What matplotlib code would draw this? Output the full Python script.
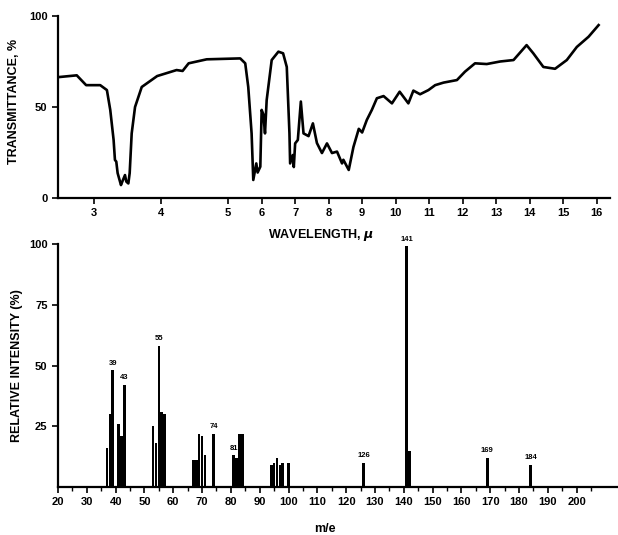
import numpy as np
import matplotlib
matplotlib.use("Agg")
import matplotlib.pyplot as plt

plt.rcParams['font.family'] = ['Liberation Sans', 'DejaVu Sans']
plt.rcParams['font.weight'] = 'bold'
plt.rcParams['axes.labelweight'] = 'bold'

# IR spectrum (wavelength in microns, % transmittance)
wl = [2.49, 2.74, 2.88, 3.09, 3.19, 3.24, 3.29, 3.31, 3.33, 3.35, 3.40, 3.42, 3.46, 3.48,
      3.51, 3.53, 3.56, 3.61, 3.71, 3.94, 4.23, 4.32, 4.41, 4.68, 5.36, 5.51, 5.60, 5.70,
      5.75, 5.84, 5.88, 5.96, 6.00, 6.05, 6.10, 6.15, 6.30, 6.50, 6.64, 6.75, 6.83, 6.85,
      6.93, 6.96, 7.00, 7.08, 7.17, 7.25, 7.40, 7.53, 7.65, 7.80, 7.95, 8.10, 8.25, 8.40,
      8.44, 8.60, 8.74, 8.90, 9.00, 9.14, 9.29, 9.44, 9.64, 9.89, 10.12, 10.38, 10.53,
      10.73, 10.98, 11.18, 11.43, 11.83, 12.07, 12.37, 12.72, 13.12, 13.52, 13.91, 14.11,
      14.41, 14.76, 15.11, 15.41, 15.76, 16.06]
trans = [66.5, 67.4, 62, 62, 59.3, 48.4, 31.9, 20.9, 20, 13.7, 7.1, 9, 12.6, 9,
         8, 13.7, 35.5, 50, 61, 67, 70.3, 69.8, 74, 76.2, 76.7, 74, 61, 35.5,
         9.9, 19, 14, 17.2, 48.4, 46, 35.5, 53.8, 75.8, 80.4, 79.5, 72, 35.5, 19,
         23.6, 17, 30, 31.9, 53, 35.5, 34, 41, 30.2, 24.7, 30, 24.7, 25.5, 19,
         21, 15.4, 28, 38, 36, 42.9, 48.4, 54.8, 56, 52, 58.4, 52, 59,
         57, 59.3, 62, 63.4, 64.8, 69.4, 74, 73.6, 75, 75.8, 84, 79.5,
         72, 71, 75.8, 83, 88.6, 95]
wl_ticks = [3, 4, 5, 6, 7, 8, 9, 10, 11, 12, 13, 14, 15, 16]

# mass spectrum
mz = [37, 38, 39, 41, 42, 43, 53, 54, 55, 56, 57, 67, 68, 69, 70, 71, 74,
      81, 82, 83, 84, 94, 95, 96, 97, 98, 100, 126, 141, 142, 169, 184]
intensity = [16, 30, 48, 26, 21, 42, 25, 18, 58, 31, 30, 11, 11, 22, 21, 13, 22,
             13, 12, 22, 22, 9, 10, 12, 9, 10, 10, 10, 99, 15, 12, 9]
labeled = [39, 43, 55, 74, 81, 126, 141, 169, 184]


def fwd(w):
    w = np.asarray(w, dtype=float)
    return np.where(w <= 5, 2 * w, w + 5)


def inv(t):
    t = np.asarray(t, dtype=float)
    return np.where(t <= 10, t / 2, t - 5)


fig = plt.figure(figsize=(6.18, 5.35), dpi=100)
ax1 = fig.add_axes([58 / 618, 1 - 198 / 535, 552 / 618, 182 / 535])
ax2 = fig.add_axes([58 / 618, 1 - 487 / 535, 559 / 618, 243 / 535])

ax1.set_xscale('function', functions=(fwd, inv))
ax1.plot(wl, trans, color='black', lw=1.9)
ax1.set_xlim(2.46, 16.4)
ax1.set_ylim(0, 100)
ax1.set_xticks(wl_ticks)
ax1.set_xticklabels([str(t) for t in wl_ticks])
ax1.minorticks_off()
ax1.set_yticks([0, 50, 100])
ax1.set_ylabel('TRANSMITTANCE, %', fontsize=9)
ax1.yaxis.set_label_coords(-0.068, 0.53)
ax1.set_xlabel(r'WAVELENGTH, $\mu$', fontsize=9)
ax1.xaxis.set_label_coords(0.476, -0.157)

ax2.bar(mz, intensity, width=0.9, color='black')
for m, v in zip(mz, intensity):
    if m in labeled:
        ax2.text(m, v + 1.5, str(m), ha='center', va='bottom', fontsize=5.5)
ax2.set_xlim(20, 214)
ax2.set_ylim(0, 100)
ax2.set_xticks(range(20, 201, 10))
ax2.set_xticks(range(25, 211, 10), minor=True)
ax2.set_yticks([25, 50, 75, 100])
ax2.set_ylabel('RELATIVE INTENSITY (%)', fontsize=9)
ax2.set_xlabel('m/e', fontsize=9)
ax2.xaxis.set_label_coords(0.478, -0.147)

for ax in (ax1, ax2):
    ax.spines['top'].set_visible(False)
    ax.spines['right'].set_visible(False)
    ax.spines['left'].set_linewidth(1.6)
    ax.spines['bottom'].set_linewidth(1.6)
    ax.tick_params(labelsize=8, width=1.2, length=4)

ax2.tick_params(axis='x', which='minor', length=3, width=1.0)

fig.savefig('out.png', dpi=100)
